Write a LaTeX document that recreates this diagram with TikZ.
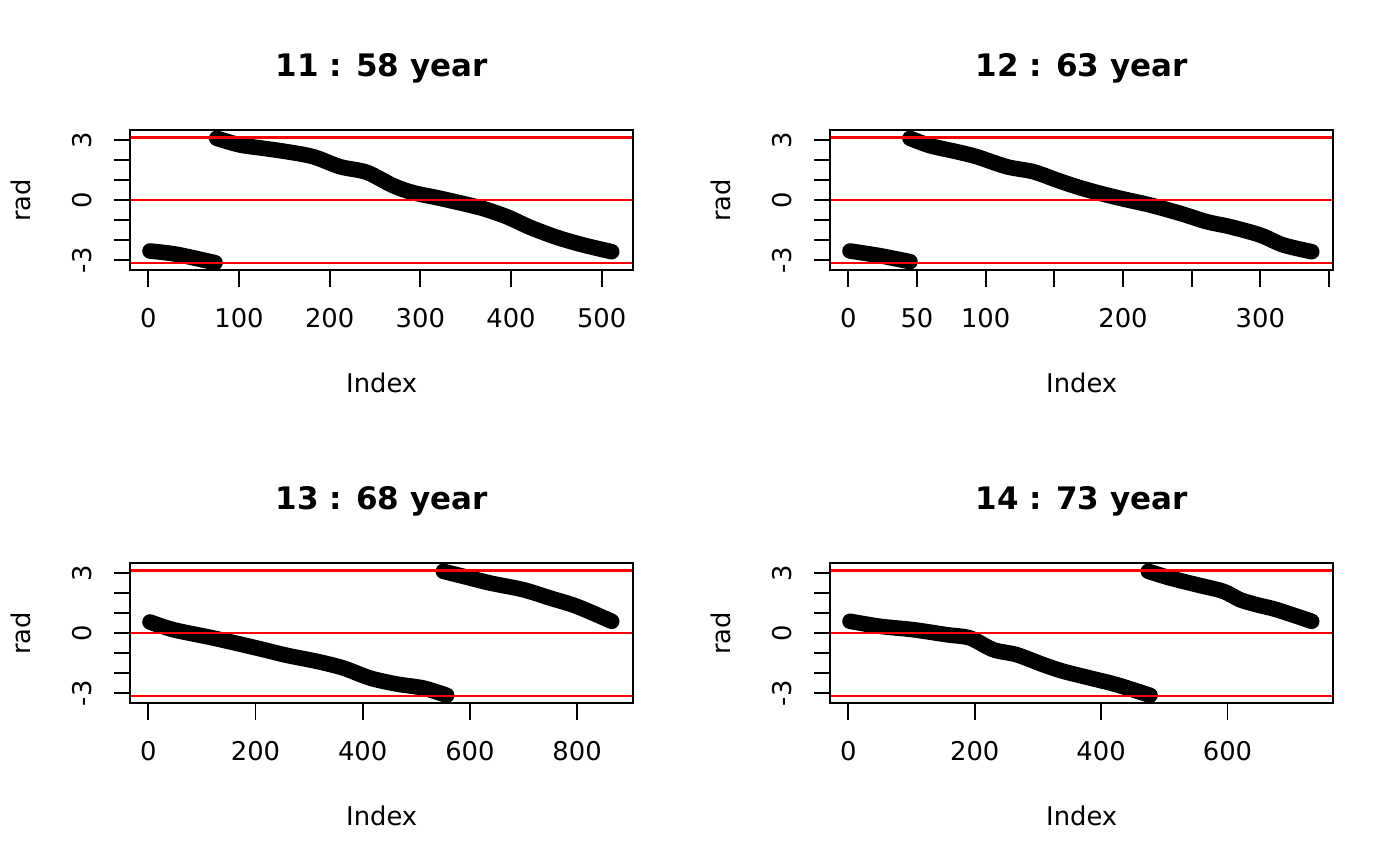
\documentclass[tikz,border=0pt]{standalone}
\usepackage{fontspec}
\setmainfont{DejaVu Sans}
\begin{document}
\begin{tikzpicture}[x=0.5pt,y=-0.5pt,
    frame/.style={line width=0.9pt},
    refline/.style={color=red,line width=1.1pt},
    track/.style={line width=7.8pt,line cap=round,line join=round},
    ticklab/.style={font=\fontsize{12.9}{15}\selectfont,anchor=base,inner sep=0pt},
    plottitle/.style={font=\fontsize{15.5}{18}\selectfont\bfseries,anchor=base,inner sep=0pt}]
  \useasboundingbox (0,0) rectangle (1400,866);
  % one panel: box, red lines at -pi, 0, pi, y axis
  \tikzset{panel/.pic={
    \draw[refline] (130.3,137.5) -- (633,137.5);
    \draw[refline] (130.3,200.3) -- (633,200.3);
    \draw[refline] (130.3,263.1) -- (633,263.1);
    \draw[frame] (130.3,130.3) rectangle (633,270.3);
    \foreach \v in {-3,...,3}
      \draw[frame] (130.3,{200.3-20*\v}) -- ++(-16,0);
    \node[ticklab,rotate=90] (-y3) at (91.7,140.3) {3};
    \node[ticklab,rotate=90] (-y0) at (91.7,200.3) {0};
    \node[ticklab,rotate=90] (-ym3) at (91.7,260.3) {-3};
    \node[ticklab,rotate=90] (-rad) at (30,200.3) {rad};
    \node[ticklab] (-index) at (381.7,392.3) {Index};
  }}

  % 11 : 58 year
  \begin{scope}
    \draw[track] plot[smooth,tension=0.5] coordinates {(150,251) (176.7,254.3) (215,262.7)};
    \draw[track] plot[smooth,tension=0.5] coordinates {(216.7,138.3) (240,145) (263.3,148.3)
      (286.7,151.7) (313.3,156.7) (340,166.7) (366.7,172.3) (393.3,185.7) (413.3,192.7)
      (440,198.3) (480,207.7) (506.7,216.7) (530,227.3) (556.7,237.3) (583.3,245) (611.7,251.7)};
    \pic (p11) at (0,0) {panel};
    \foreach \k in {0,...,5}
      \draw[frame] ({148.3+90.67*\k},270.3) -- ++(0,16.3);
    \foreach \k/\lab in {0/0,1/100,2/200,3/300,4/400,5/500}
      \node[ticklab] (p11-x\k) at ({148.3+90.67*\k},327.3) {\lab};
    \node[plottitle] (t11) at (381.7,76.7) {11 : 58 year};
  \end{scope}

  % 12 : 63 year
  \begin{scope}[shift={(700,0)}]
    \draw[track] plot[smooth,tension=0.5] coordinates {(150,251) (180,255.7) (210,261.7)};
    \draw[track] plot[smooth,tension=0.5] coordinates {(210,138.3) (230,145.7) (256.7,151.7)
      (276.7,156.7) (306.7,166.7) (333.3,171.7) (356.7,180) (376.7,186.7) (400,193.3)
      (423.3,199) (450,205) (480,213.3) (506.7,221.7) (530,226.7) (560,235) (583.3,245) (611.7,251.7)};
    \pic (p12) at (0,0) {panel};
    \foreach \k in {0,...,7}
      \draw[frame] ({148.3+68.67*\k},270.3) -- ++(0,16.3);
    \foreach \k/\lab in {0/0,1/50,2/100,4/200,6/300}
      \node[ticklab] (p12-x\k) at ({148.3+68.67*\k},327.3) {\lab};
    \node[plottitle] (t12) at (381.7,76.7) {12 : 63 year};
  \end{scope}

  % 13 : 68 year
  \begin{scope}[shift={(0,433)}]
    \draw[track] plot[smooth,tension=0.5] coordinates {(150,189) (173.3,196.7) (213.3,205)
      (256.7,215) (286.7,222.3) (316.7,228.3) (343.3,235) (370,245) (396.7,251) (423.3,255) (446.7,262.3)};
    \draw[track] plot[smooth,tension=0.5] coordinates {(443.3,138.3) (463.3,143.3) (490,150)
      (523.3,156.7) (550,165) (576.7,173.3) (611.7,188.3)};
    \pic (p13) at (0,0) {panel};
    \foreach \k in {0,...,4}
      \draw[frame] ({148.3+107.2*\k},270.3) -- ++(0,16.3);
    \foreach \k/\lab in {0/0,1/200,2/400,3/600,4/800}
      \node[ticklab] (p13-x\k) at ({148.3+107.2*\k},327.3) {\lab};
    \node[plottitle] (t13) at (381.7,76.7) {13 : 68 year};
  \end{scope}

  % 14 : 73 year
  \begin{scope}[shift={(700,433)}]
    \draw[track] plot[smooth,tension=0.5] coordinates {(150,188.3) (180,193.3) (213.3,196.7)
      (246.7,201.7) (270,205) (293.3,216.7) (316.7,221.7) (343.3,231.7) (363.3,238.3)
      (390,245) (416.7,251.7) (450,262.3)};
    \draw[track] plot[smooth,tension=0.5] coordinates {(448.3,138.3) (470,145) (496.7,151.7)
      (523.3,158.3) (540,166.7) (556.7,171.7) (576.7,176.7) (611.7,188.3)};
    \pic (p14) at (0,0) {panel};
    \foreach \k in {0,...,3}
      \draw[frame] ({148.3+126.4*\k},270.3) -- ++(0,16.3);
    \foreach \k/\lab in {0/0,1/200,2/400,3/600}
      \node[ticklab] (p14-x\k) at ({148.3+126.4*\k},327.3) {\lab};
    \node[plottitle] (t14) at (381.7,76.7) {14 : 73 year};
  \end{scope}
\end{tikzpicture}
\end{document}
